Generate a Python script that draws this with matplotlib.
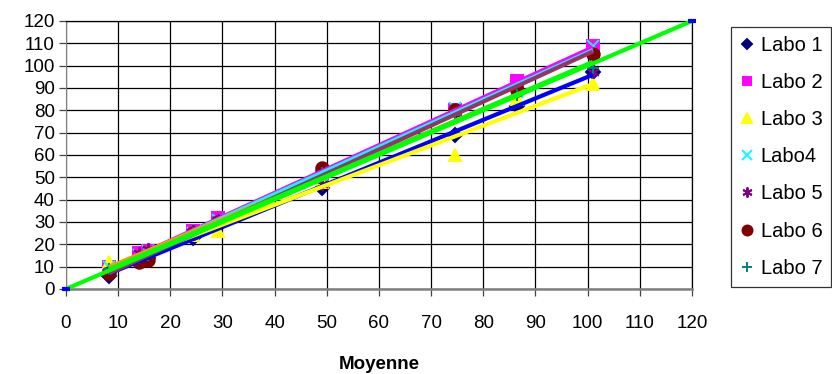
import numpy as np
import matplotlib
matplotlib.use("Agg")
import matplotlib.pyplot as plt

plt.rcParams['font.family'] = ['Liberation Sans', 'DejaVu Sans']

# mean of all labs per sample
moyenne = [8.3, 14.0, 15.8, 24.4, 29.1, 49.0, 74.5, 86.5, 101.0]

labo1 = [6, 13, 14, 23, 28, 45, 69, 82, 97]
labo2 = [10, 16, 17, 26, 32, 50, 80, 93, 109]
labo3 = [12, 14, 16, 24, 26, 48, 60, 85, 92]
labo4 = [10, 15, 17, 25, 31, 51, 81, 88, 109]
labo5 = [8, 16, 18, 26, 31, 47, 79, 90, 97]
labo6 = [7, 12, 13, 25, 30, 54, 80, 89, 105]
labo7 = [9, 14, 15, 25, 29, 52, 78, 87, 99]

labels = ["Labo 1", "Labo 2", "Labo 3", "Labo4", "Labo 5", "Labo 6", "Labo 7"]
series = [labo1, labo2, labo3, labo4, labo5, labo6, labo7]
markers = ["D", "s", "^", "x", (6, 2, 0), "o", "+"]
mcolors = ["#000080", "#FF00FF", "#FFFF00", "#00FFFF", "#800080", "#800000", "#008080"]
tcolors = ["#0000FF", "#FF00FF", "#FFFF00", "#00FFFF", "#FF9900", "#993366", "#00FF00"]
msizes = [7, 8, 9, 9, 9, 9, 9]

fig = plt.figure(figsize=(8.32, 3.74), dpi=100)
ax = fig.add_axes([0.0793, 0.2273, 0.7524, 0.7166])

x = np.array(moyenne)
for lab, vals, mk, mc, ms in zip(labels, series, markers, mcolors, msizes):
    ax.plot(x, vals, linestyle="none", marker=mk, color=mc, markersize=ms,
            markeredgewidth=1.4, label=lab, zorder=3)

# linear trendline per lab
xr = np.array([x.min(), x.max()])
for vals, tc in zip(series, tcolors):
    a, b = np.polyfit(x, vals, 1)
    ax.plot(xr, a * xr + b, color=tc, linewidth=3, solid_capstyle="butt", zorder=4)

# y = x reference
ax.plot([0, 120], [0, 120], color="#00FF00", linewidth=3, zorder=5)
ax.plot([0, 120], [0, 120], linestyle="none", marker="_", color="#0000FF",
        markersize=6, markeredgewidth=3, zorder=6, clip_on=False)

ax.set_xlim(0, 120)
ax.set_ylim(0, 120)
ax.set_xticks(np.arange(0, 121, 10))
ax.set_yticks(np.arange(0, 121, 10))
ax.grid(True, color="black", linewidth=0.9)
ax.set_axisbelow(True)
ax.tick_params(labelsize=13.5, length=5, width=0.9, color="#444444", pad=14)
ax.tick_params(axis="y", pad=3)
for side in ["top", "right"]:
    ax.spines[side].set_color("black")
    ax.spines[side].set_linewidth(0.9)
ax.spines["left"].set_color("#808080")
ax.spines["bottom"].set_color("#808080")
ax.spines["bottom"].set_linewidth(1.8)

ax.set_xlabel("Moyenne", fontsize=13.5, fontweight="bold", labelpad=17)

leg = fig.legend(loc="upper left", bbox_to_anchor=(0.879, 0.928), fontsize=14.5,
                 frameon=True, fancybox=False, edgecolor="black", handlelength=0.7,
                 handletextpad=0.3, labelspacing=0.9, borderpad=0.45,
                 borderaxespad=0, markerscale=0.8)
leg.get_frame().set_linewidth(0.9)

fig.savefig("out.png", dpi=100)
